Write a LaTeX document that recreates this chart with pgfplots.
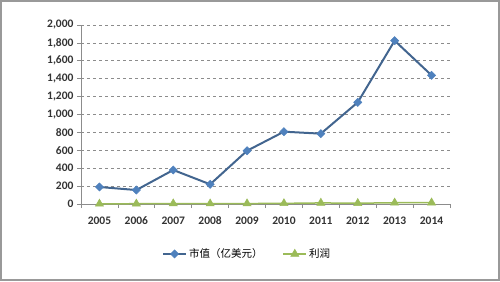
\documentclass[border=0pt]{standalone}
\usepackage{pgfplots}
\pgfplotsset{compat=1.18}
\usepackage{fontspec}
\setmainfont{Carlito}
\newfontfamily\cjk{Noto Sans CJK SC}
\definecolor{mvblue}{HTML}{42658F}
\definecolor{mvmark}{HTML}{4F81BD}
\definecolor{prgreen}{HTML}{9BBB59}
\definecolor{gridc}{HTML}{8C8C8C}
\definecolor{axc}{HTML}{8C8C8C}
\begin{document}
\begin{tikzpicture}[x=1pt,y=1pt]
\useasboundingbox (0,0) rectangle (500,281);
\draw[color=gray!80, line width=2pt] (1,1) rectangle (499,280);
\begin{axis}[
  at={(81pt,77pt)}, anchor=south west,
  scale only axis, width=369pt, height=179pt,
  xmin=-0.5, xmax=9.5, ymin=0, ymax=2000,
  axis lines=left, axis line style={-, color=axc, line width=0.8pt},
  xtick={0,...,9},
  xticklabels={2005,2006,2007,2008,2009,2010,2011,2012,2013,2014},
  minor xtick={-0.5,0.5,...,9.5},
  ytick={0,200,...,2000},
  tick align=outside,
  x tick style={draw=none},
  minor x tick style={draw=axc, line width=0.8pt},
  minor tick length=4pt,
  y tick style={color=axc, line width=0.8pt},
  major tick length=4pt,
  ymajorgrids, major grid style={dashed, color=gridc, line width=0.7pt},
  tick label style={font=\bfseries\fontsize{11.5}{13}\selectfont, color=black!80},
  xticklabel style={yshift=-5pt},
  yticklabel style={xshift=0pt},
  /pgf/number format/assume math mode=true,
  /pgf/number format/1000 sep={,},
  legend style={at={(0.45,-0.279)}, anchor=center, draw=none, fill=none,
    font=\cjk\fontsize{10.5}{12}\selectfont, /tikz/every even column/.append style={column sep=18pt}},
  legend columns=2,
  legend image code/.code={\draw[mark repeat=2, mark phase=2] plot coordinates {(0pt,0pt) (11.5pt,0pt) (23pt,0pt)};},
  clip=false,
]
\addplot[color=mvblue, line width=2pt, mark=square*, mark size=2.9pt,
  mark options={fill=mvmark, draw=mvmark, line width=0.5pt, rotate=45}]
  coordinates {(0,190) (1,156) (2,380) (3,220) (4,595) (5,808) (6,786) (7,1136) (8,1825) (9,1438)};
\addlegendentry{市值（亿美元）}
\addplot[color=prgreen, line width=1.5pt, mark=triangle*, mark size=4.7pt,
  mark options={fill=prgreen, draw=prgreen, line width=0.5pt}]
  coordinates {(0,2) (1,3) (2,5) (3,4) (4,5) (5,7) (6,12) (7,9) (8,14) (9,15)};
\addlegendentry{利润}
\end{axis}
\end{tikzpicture}
\end{document}
